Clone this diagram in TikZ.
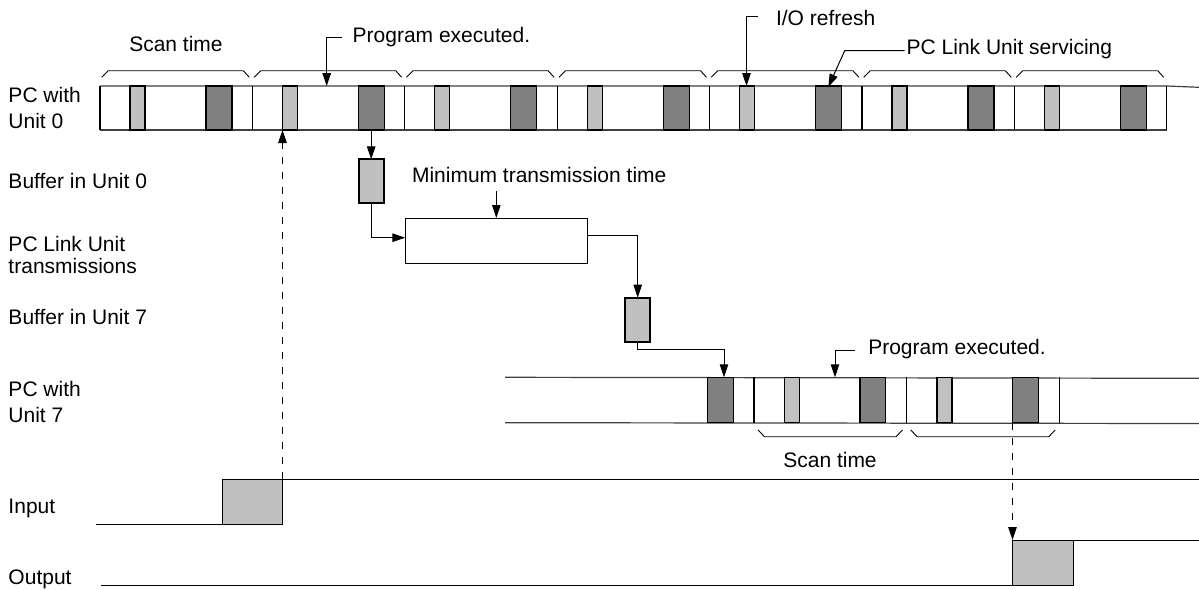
\documentclass[tikz,border=0pt]{standalone}
\usepackage{fontspec}
\setmainfont{Liberation Sans}
\usetikzlibrary{arrows.meta}
\definecolor{lg}{HTML}{C0C0C0}
\definecolor{dg}{HTML}{808080}
\begin{document}
\begin{tikzpicture}[x=1pt,y=-1pt,
  every node/.style={inner sep=0pt, outer sep=0pt, font=\fontsize{21}{26}\selectfont},
  arr/.style={-{Triangle[length=13pt,width=8.5pt]}, line width=1pt},
  darr/.style={arr, dash pattern=on 7pt off 8pt},
  bar/.style={line width=1.2pt, draw=black!75},
  cell/.style={line width=1.3pt, draw=black},
  brk/.style={line width=0.9pt},
  buf/.style={draw, line width=2.2pt, fill=lg, minimum width=25pt, minimum height=44pt},
  tbox/.style={draw, line width=1pt, minimum width=182pt, minimum height=45pt},
  lbl/.style={anchor=west, align=left}]
\useasboundingbox (0,0) rectangle (1199,589);

% ---------- PC with Unit 0 ----------
\draw[bar] (100,86) -- (1166.8,86) -- (1199,87.3);
\draw[bar] (100,130) -- (1166.8,130);
\foreach \i in {0,...,6}{
  \pgfmathsetmacro\b{100+152.4*\i}
  \filldraw[fill=lg, cell] (\b+30,86) rectangle (\b+45,130);
  \filldraw[fill=dg, cell] (\b+106,86) rectangle (\b+132,130);
  \draw[cell] (\b,86) -- (\b,130);
  \draw[brk] (\b+1.7,77.3) -- (\b+8.3,70.7) -- (\b+143.3,70.7) -- (\b+149.3,77.3);
}
\draw[cell] (1166.8,86) -- (1166.8,130);

% ---------- PC with Unit 7 ----------
\draw[bar] (505,377.3) -- (1199,378.3);
\draw[bar] (505,422.7) -- (1199,423.5);
\filldraw[fill=dg, cell] (707.7,377.3) rectangle (733.3,422.7);
\foreach \b in {754,906.7}{
  \filldraw[fill=lg, cell] (\b+30.3,377.3) rectangle (\b+45.3,422.7);
  \filldraw[fill=dg, cell] (\b+106,377.3) rectangle (\b+131.6,422.7);
  \draw[cell] (\b,377.3) -- (\b,422.7);
  \draw[brk] (\b+4,430) -- (\b+10.5,436.7) -- (\b+142,436.7) -- (\b+148.5,430);
}
\draw[cell] (1059.3,377.3) -- (1059.3,422.7);

% ---------- left labels ----------
\node[lbl] (l1) at (8.5,108) {PC with\\Unit 0};
\node[lbl] (l2) at (8.5,181) {Buffer in Unit 0};
\node[lbl, font=\fontsize{21}{22}\selectfont] (l3) at (8.5,255) {PC Link Unit\\transmissions};
\node[lbl] (l4) at (8.5,317) {Buffer in Unit 7};
\node[lbl] (l5) at (8.5,402) {PC with\\Unit 7};
\node[lbl] (l6) at (8.5,508) {Input};
\node[lbl] (l7) at (8.5,579) {Output};

% ---------- annotations ----------
\node (st1) at (176,43.5) {Scan time};
\node (st2) at (830,460) {Scan time};
\node[anchor=west] (pe1) at (352.7,37) {Program executed.};
\node[anchor=west] (io) at (776,17.5) {I/O refresh};
\node[anchor=west] (pls) at (906.7,48.7) {PC Link Unit servicing};
\node (mtt) at (539.2,175) {Minimum transmission time};
\node[anchor=west] (pe2) at (868.3,349) {Program executed.};

\coordinate (p1) at (326.7,86);
\coordinate (iot) at (746.5,86);
\coordinate (pst) at (828.3,87);
\coordinate (p2) at (835,377.3);
\draw[arr] ([xshift=-11pt]pe1.west) -| (p1);
\draw[arr] ([xshift=-18pt,yshift=1.5pt]io.west) -| (iot);
\draw[arr] ([xshift=-2pt,yshift=-2pt]pls.west) -- ++(-60,0) -- (pst);
\draw[arr] ([xshift=-13pt,yshift=-1.5pt]pe2.west) -| (p2);

% ---------- buffers and transmission ----------
\node[buf] (b0) at (371.2,181.3) {};
\node[tbox] (tx) at (496.3,240.5) {};
\node[buf] (b7) at (637.7,319.7) {};
\coordinate (d2) at (371.2,130);
\coordinate (d7) at (724,377.3);
\draw[arr] (d2) -- (b0.north);
\draw[arr] (b0.south) |- ([yshift=2.8pt]tx.west);
\draw[arr] ([yshift=27.5pt]tx.north) -- (tx.north);
\draw[arr] ([yshift=4.8pt]tx.east) -| (b7.north);
\draw[arr] (b7.south) -- ++(0,8) -| (d7);

% ---------- input / output ----------
\filldraw[fill=lg, line width=1pt] (222.7,479) rectangle (282.5,524.3);
\draw[line width=1pt] (96,524.3) -- (222.7,524.3) -- (222.7,479) -- (1199,479);
\filldraw[fill=lg, line width=1pt] (1012.5,540) rectangle (1073.3,585.7);
\draw[line width=1pt] (100.7,585.7) -- (1012.5,585.7) -- (1012.5,540) -- (1199,540);

\coordinate (inedge) at (282.5,479);
\coordinate (topin) at (282.5,130);
\coordinate (o7) at (1012.5,422.7);
\coordinate (outedge) at (1012.5,540);
\draw[darr] (inedge) -- (topin);
\draw[darr] (o7) -- (outedge);
\end{tikzpicture}
\end{document}
